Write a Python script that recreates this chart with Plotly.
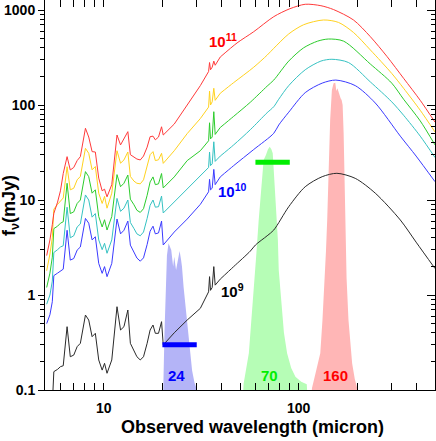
import math
import plotly.graph_objects as go

# ---------------- data ----------------
mid_wave = [5.1, 5.3, 5.45, 5.55, 5.8, 6.0, 6.2, 6.49, 6.74, 7.02, 7.31, 7.59, 8.06, 8.38,
            8.72, 9.06, 9.43, 9.82, 10.1, 10.4, 11.0, 11.7, 12.2, 12.7, 13.3, 13.7, 14.3,
            14.8, 15.4, 16.0, 16.7, 17.3, 17.9, 18.4, 19.1, 19.8, 20.2, 23, 26.8, 31.3,
            34.5, 34.9, 35.3, 36.0, 36.7, 37.3, 39.6]

black_mid = [0.03, 0.05, 0.07, 0.156, 0.165, 0.176, 0.18, 0.464, 0.224, 0.233, 0.286, 0.31,
             0.615, 0.545, 0.364, 0.395, 0.207, 0.162, 0.191, 0.150, 0.207, 0.753, 0.428,
             0.464, 0.695, 0.31, 0.264, 0.224, 0.207, 0.224, 0.31, 0.428, 0.483, 0.395,
             0.395, 0.524, 0.298, 0.40, 0.545, 0.724, 1.08, 1.56, 1.12, 1.2, 1.99, 1.27, 1.47]
blue_mid = [0.5, 0.62, 0.85, 1.6, 1.7, 1.8, 1.87, 4.8, 2.33, 2.42, 2.97, 3.2, 6.4, 5.7, 3.8,
            4.1, 2.15, 1.69, 1.99, 1.56, 2.15, 6.3, 4.4, 4.8, 6.0, 3.35, 2.85, 2.45, 2.27,
            2.46, 3.4, 4.7, 5.3, 4.4, 4.5, 6.0, 3.36, 4.6, 6.3, 9.0, 12.2, 16.5, 12.8, 13.3,
            21, 14.5, 17.5]
cyan_mid = [0.8, 1.0, 1.4, 2.8, 3.0, 3.2, 3.3, 8.4, 4.0, 4.2, 5.2, 5.6, 11.3, 10.0, 6.6, 7.2,
            3.8, 3.0, 3.5, 2.75, 3.8, 10.4, 7.6, 8.2, 10.0, 5.8, 5.0, 4.4, 4.2, 4.6, 6.4, 8.8,
            10.0, 8.4, 8.5, 11.0, 7.3, 9.5, 13, 18, 22, 32, 23, 24, 41, 25.5, 29]
green_mid = [1.2, 1.7, 2.5, 5.0, 5.3, 5.7, 5.9, 15, 7.2, 7.5, 9.2, 10, 19.9, 17.6, 11.8, 12.8,
             6.7, 5.2, 6.2, 4.83, 6.7, 18.5, 13.8, 15, 18.3, 10.2, 8.9, 7.8, 7.4, 8.1, 11.2,
             15.5, 17.5, 14.5, 14.8, 19, 13.4, 17.5, 26, 33, 42, 65, 44, 46, 85, 49, 58]
yellow_mid = [1.8, 2.7, 4.0, 8.0, 9.0, 9.8, 10.5, 22.4, 12.8, 13.3, 16.3, 17.7, 35, 31, 20.8,
              22.5, 11.8, 9.2, 10.9, 8.2, 11.8, 33, 24.4, 26.4, 32, 17.7, 15.8, 15, 14.8, 16.3,
              22.5, 30, 32.3, 26, 26.5, 31, 24.3, 33, 50, 72, 95, 140, 100, 108, 150, 112, 133]
red_mid = [2.6, 3.8, 5.5, 7.24, 9.5, 12.5, 19, 28.6, 20.7, 22, 26, 28.6, 56.9, 46, 32.3, 32,
           17, 12.5, 13, 10.8, 14.5, 48.3, 38, 44, 52.4, 30, 28.6, 27, 26.4, 29, 36, 46.4, 47,
           43, 46, 59, 48.3, 63, 100, 160, 225, 280, 235, 250, 290, 262, 320]

black_far_wave = [39.6, 46.4, 56.5, 60, 68.9, 74.5, 88.9, 108, 132, 157, 195, 247, 332, 400, 500]
black_far = [1.47, 1.99, 2.9, 3.36, 4.2, 4.83, 8.5, 13.8, 17.6, 19.1, 16.9, 11.8, 6.16, 3.6, 1.9]
blue_far_wave = [39.6, 46.4, 58.8, 74.5, 79, 88.9, 108, 132, 155, 195, 247, 332, 400, 500]
blue_far = [17.5, 23, 34, 50.4, 61.6, 84, 135, 170, 183, 160, 105, 47, 29, 15.6]
cyan_far_wave = [39.6, 46.4, 56.5, 68.9, 74.5, 79, 88.9, 108, 130, 148, 180, 233, 300, 345, 420, 500]
cyan_far = [29, 38, 55, 83, 96, 115, 160, 235, 290, 303, 280, 175, 108, 78, 47, 28]
green_far_wave = [39.6, 46.4, 56.5, 68.9, 74.5, 88.9, 106, 125, 142, 170, 233, 300, 345, 420, 500]
green_far = [58, 76, 107, 158, 183, 290, 400, 470, 495, 470, 270, 170, 115, 68, 38]
yellow_far_wave = [39.6, 46.4, 58.8, 68.9, 74.5, 88.9, 106, 134, 160, 191, 233, 300, 345, 420, 500]
yellow_far = [133, 172, 250, 335, 395, 560, 700, 785, 740, 580, 380, 215, 150, 88, 52]
red_far_wave = [39.6, 48.3, 58.8, 74.5, 90, 108, 130, 151, 191, 233, 284, 345, 420, 500]
red_far = [320, 450, 591, 851, 1030, 1149, 1110, 1010, 785, 524, 323, 191, 112, 66]

f24_wave = [20.0, 20.2, 20.5, 20.8, 21.1, 21.5, 21.8, 22.2, 22.7, 23.0, 23.5, 24.0, 24.5, 24.9,
            25.2, 25.7, 26.2, 26.8, 27.5, 28.4, 29.2, 30.1, 31.0]
f24_resp = [0.06, 0.1, 0.4, 1.2, 2.6, 3.5, 3.2, 2.97, 1.99, 2.53, 1.83, 2.4, 2.9, 2.4, 2.0, 1.2,
            0.8, 0.55, 0.3, 0.16, 0.12, 0.1, 0.07]
f70_wave = [51.5, 52.2, 55.5, 57.3, 58.8, 60.7, 62.3, 63.5, 64.6, 66.1, 68.0, 69.5, 71.0, 72.5,
            73.6, 74.5, 75.7, 76.4, 77.4, 78.2, 79.0, 81.0, 84.0, 87.2, 91.5, 96.2, 103, 110, 111.5]
f70_resp = [0.07, 0.117, 0.243, 0.545, 1.22, 2.76, 6.0, 10, 14, 26.4, 30, 34, 36.4, 34, 31,
            20.7, 13.8, 9.2, 6.16, 3.8, 1.83, 0.9, 0.4, 0.243, 0.17, 0.138, 0.122, 0.115, 0.07]
f160_wave = [115, 117, 122, 129, 132.4, 135.5, 138, 140, 142.5, 145, 148, 151, 154, 156, 158,
             160, 162, 164, 166, 168, 170, 172, 173, 176, 180, 184, 188, 194, 199.5, 202]
f160_resp = [0.07, 0.105, 0.15, 0.243, 0.545, 1.22, 2.9, 6.16, 26, 70, 144, 169, 172, 140, 150,
             135, 127, 118, 113, 100, 50, 15, 6.16, 1.5, 0.545, 0.3, 0.19, 0.13, 0.105, 0.07]

bar24_wave = [20, 30]
bar24_flux = [0.3, 0.3]
bar70_wave = [60, 90]
bar70_flux = [25, 25]

x_ticks = [10, 100]
x_ticktext = ["10", "100"]
y_ticks = [0.1, 1, 10, 100, 1000]
y_ticktext = ["0.1", "1", "10", "100", "1000"]
x_minor = [6, 7, 8, 9, 20, 30, 40, 50, 60, 70, 80, 90, 200, 300, 400, 500]
y_minor = [v * m for m in (0.1, 1, 10, 100, 1000) for v in range(2, 10)]

# ---------------- figure ----------------
fig = go.Figure()

for w, r, col in [(f24_wave, f24_resp, "#b4b4f7"),
                  (f70_wave, f70_resp, "#b6fdb6"),
                  (f160_wave, f160_resp, "#ffb6b6")]:
    fig.add_trace(go.Scatter(x=w, y=r, mode="lines", fill="toself", fillcolor=col,
                             line=dict(width=0, color=col), hoverinfo="skip"))

curves = [
    (black_mid, black_far_wave, black_far, "#2a2a2a"),
    (blue_mid, blue_far_wave, blue_far, "#3a3aff"),
    (cyan_mid, cyan_far_wave, cyan_far, "#35c2c2"),
    (green_mid, green_far_wave, green_far, "#2ccc2c"),
    (yellow_mid, yellow_far_wave, yellow_far, "#ffd21f"),
    (red_mid, red_far_wave, red_far, "#ff3a3a"),
]
for mid, fw, ff, col in curves:
    fig.add_trace(go.Scatter(x=mid_wave, y=mid, mode="lines",
                             line=dict(color=col, width=1), hoverinfo="skip"))
    fig.add_trace(go.Scatter(x=fw, y=ff, mode="lines",
                             line=dict(color=col, width=1, shape="spline", smoothing=0.8),
                             hoverinfo="skip"))

fig.add_trace(go.Scatter(x=bar24_wave, y=bar24_flux, mode="lines",
                         line=dict(color="#0000ff", width=5), hoverinfo="skip"))
fig.add_trace(go.Scatter(x=bar70_wave, y=bar70_flux, mode="lines",
                         line=dict(color="#00ee00", width=5), hoverinfo="skip"))

# helper trace for the right-hand axis
fig.add_trace(go.Scatter(x=[10], y=[1], yaxis="y2", mode="markers",
                         marker=dict(opacity=0), hoverinfo="skip"))

bold = dict(family="Liberation Sans, Arial, sans-serif", weight="bold")

annotations = [
    dict(text="10<sup>11</sup>", x=0.457, y=0.897, color="#ff0000"),
    dict(text="10<sup>10</sup>", x=0.482, y=0.512, color="#0000ff"),
    dict(text="10<sup>9</sup>", x=0.481, y=0.256, color="#000000"),
    dict(text="24", x=0.336, y=0.036, color="#0000ff"),
    dict(text="70", x=0.575, y=0.036, color="#00ee00"),
    dict(text="160", x=0.745, y=0.036, color="#ff0000"),
]
ann = []
for a in annotations:
    ann.append(dict(text=a["text"], x=a["x"], y=a["y"], xref="paper", yref="paper",
                    showarrow=False, xanchor="center", yanchor="middle",
                    font=dict(size=15, color=a["color"], **bold)))
ann.append(dict(text="Observed wavelength (micron)", x=0.533, y=-0.095, xref="paper",
                yref="paper", showarrow=False, xanchor="center", yanchor="middle",
                font=dict(size=18, color="black", **bold)))
ann.append(dict(text="f<sub>ν</sub>(mJy)", x=-0.09, y=0.474, xref="paper", yref="paper",
                showarrow=False, xanchor="center", yanchor="middle", textangle=-90,
                font=dict(size=18, color="black", **bold)))

fig.update_layout(
    width=436, height=441,
    margin=dict(l=45, r=1, t=0, b=51, autoexpand=False),
    paper_bgcolor="white", plot_bgcolor="white",
    showlegend=False,
    font=dict(family="Liberation Sans, Arial, sans-serif", size=14, color="black"),
    annotations=ann,
    xaxis=dict(type="log", range=[math.log10(5), math.log10(500)], automargin=False,
               showline=True, linecolor="black", linewidth=1, mirror="allticks",
               ticks="inside", ticklen=7, tickwidth=1, tickcolor="black",
               tickvals=x_ticks, ticktext=x_ticktext,
               tickfont=dict(size=14, color="black", **bold), ticklabelstandoff=5,
               showgrid=False, zeroline=False,
               minor=dict(ticks="inside", ticklen=4, tickvals=x_minor, tickcolor="black",
                          showgrid=False)),
    yaxis=dict(type="log", range=[-1, 3.1053], automargin=False,
               showline=True, linecolor="black", linewidth=1, mirror=False,
               ticks="outside", ticklen=6, tickwidth=1, tickcolor="black",
               tickvals=y_ticks, ticktext=y_ticktext,
               tickfont=dict(size=14, color="black", **bold),
               showgrid=False, zeroline=False,
               minor=dict(ticks="outside", ticklen=4, tickvals=y_minor, tickcolor="black",
                          showgrid=False)),
    yaxis2=dict(type="log", range=[-1, 3.1053], overlaying="y", side="right",
                automargin=False,
                showline=True, linecolor="black", linewidth=1,
                ticks="inside", ticklen=8, tickwidth=1, tickcolor="black",
                tickvals=y_ticks, showticklabels=False,
                showgrid=False, zeroline=False,
                minor=dict(ticks="inside", ticklen=4, tickvals=y_minor, tickcolor="black",
                           showgrid=False)),
)

fig.write_html("out.html", config={"displayModeBar": False, "staticPlot": True},
               post_script="document.body.style.margin='0px';document.body.style.padding='0px';")
